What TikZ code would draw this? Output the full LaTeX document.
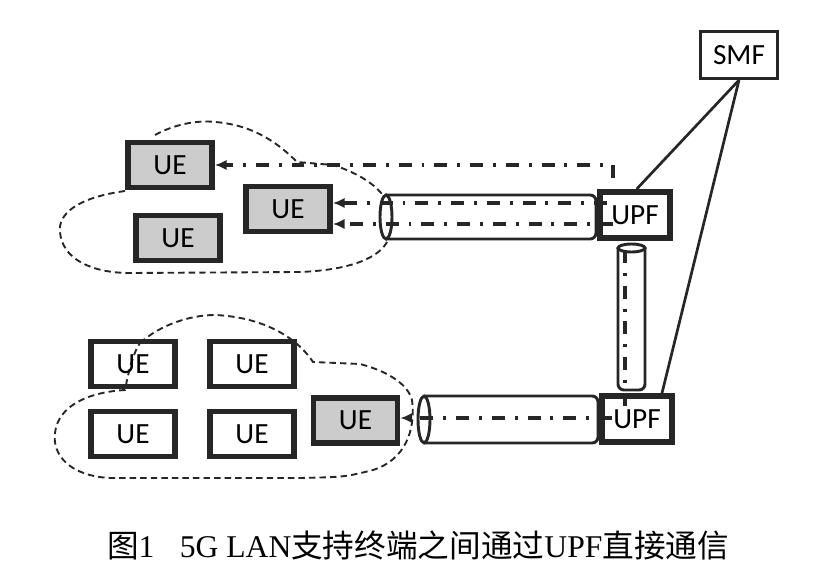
\documentclass[tikz,border=0pt]{standalone}
\usepackage{fontspec}
\setmainfont{Carlito}
\newfontfamily\capserif{Liberation Serif}
\newfontfamily\cjk{Noto Sans CJK SC}
\usetikzlibrary{arrows.meta,calc}
\tikzset{
  box/.style={draw=black!85,line width=5pt,inner sep=0pt,font=\fontsize{25}{28}\selectfont},
  uebox/.style={box,minimum width=2.52cm,minimum height=1.35cm},
  uegray/.style={uebox,fill=black!20},
  upfbox/.style={box,fill=white,minimum width=2.1cm,minimum height=1.38cm},
  smfbox/.style={box,line width=3pt,minimum width=2.3cm,minimum height=1.4cm},
  link/.style={draw=black!85,line width=2.3pt},
  tube/.style={draw=black!85,line width=2.5pt,fill=white},
  cloud/.style={draw=black!85,line width=1.6pt,dash pattern=on 5.5pt off 3.5pt},
  flow/.style={draw=black!85,line width=3pt,dash pattern=on 11pt off 8.5pt on 2.5pt off 8.5pt},
  arr/.style={flow,-{Latex[length=10pt,width=9pt]}}
}
\begin{document}
\begin{tikzpicture}[x=0.03cm,y=-0.03cm]
  \useasboundingbox[fill=white] (0,0) rectangle (834,571);
  \draw[cloud] (125,191) .. controls (75,198) and (58,215) .. (60,232)
    .. controls (62,258) and (90,273) .. (130,273) -- (300,272)
    .. controls (350,270) and (380,258) .. (388,240);
  \draw[cloud] (155,135) .. controls (175,124) and (198,120) .. (215,122)
    .. controls (255,125) and (280,145) .. (297,162) -- (333,165)
    .. controls (355,172) and (372,182) .. (382,194);
  \draw[cloud] (140,343) .. controls (160,325) and (190,315) .. (215,315)
    .. controls (260,317) and (295,335) .. (313,362) -- (360,364)
    .. controls (390,372) and (408,385) .. (412,400)
    .. controls (416,430) and (405,460) .. (373,470)
    .. controls (345,477) .. (300,478) -- (110,478)
    .. controls (70,476) and (52,455) .. (55,433)
    .. controls (58,405) and (90,392) .. (125,390)
    .. controls (128,375) and (132,355) .. (140,343);
  \node[uegray] (ue1) at (170,165) {UE};
  \node[uegray] (ue2) at (288,209) {UE};
  \node[uegray] (ue3) at (178,238) {UE};
  \foreach \n/\x/\y in {a/133/364,b/252/364,c/133/434,d/252/434}
    \node[uebox] (ue\n) at (\x,\y) {UE};
  \node[uegray] (ue4) at (355.5,420.5) {UE};
  \draw[tube,rounded corners=5pt] (386,195) -- (596,195) -- (596,239) -- (386,239);
  \draw[tube] (386,217) ellipse (0.18cm and 0.66cm);
  \draw[tube,rounded corners=5pt] (424,396) -- (598,396) -- (598,443) -- (424,443);
  \draw[tube] (424,419.5) ellipse (0.18cm and 0.7cm);
  \draw[tube,rounded corners=5pt] (618,248) -- (618,390) -- (645,390) -- (645,248);
  \draw[tube] (631.5,248) ellipse (0.405cm and 0.12cm);
  \node[upfbox] (upf1) at (635,215) {UPF};
  \node[upfbox] (upf2) at (637,419) {UPF};
  \node[smfbox] (smf) at (739,55) {SMF};
  \draw[link] (smf.south) -- ([xshift=0.05cm]upf1.north);
  \draw[link] (smf.south) -- ([xshift=0.75cm]upf2.north);
  \coordinate (t0) at (613,178);
  \coordinate (t1) at (607,203);
  \coordinate (t2) at (613,224);
  \coordinate (v0) at (625,250);
  \coordinate (v1) at (625,408);
  \coordinate (t3) at (612,418);
  \draw[arr] (t0) |- (ue1.east);
  \draw[arr] (t1) -- (t1 -| ue2.east);
  \draw[arr] (t2) -- (t2 -| ue2.east);
  \draw[flow] (v0) -- (v1);
  \draw[arr] (t3) -- (t3 -| ue4.east);
  \node (cap) at (418,545) {\fontsize{27}{30}\selectfont\cjk 图\capserif 1\hspace{0.8em}5G LAN\cjk 支持终端之间通过\capserif UPF\cjk 直接通信};
\end{tikzpicture}
\end{document}
